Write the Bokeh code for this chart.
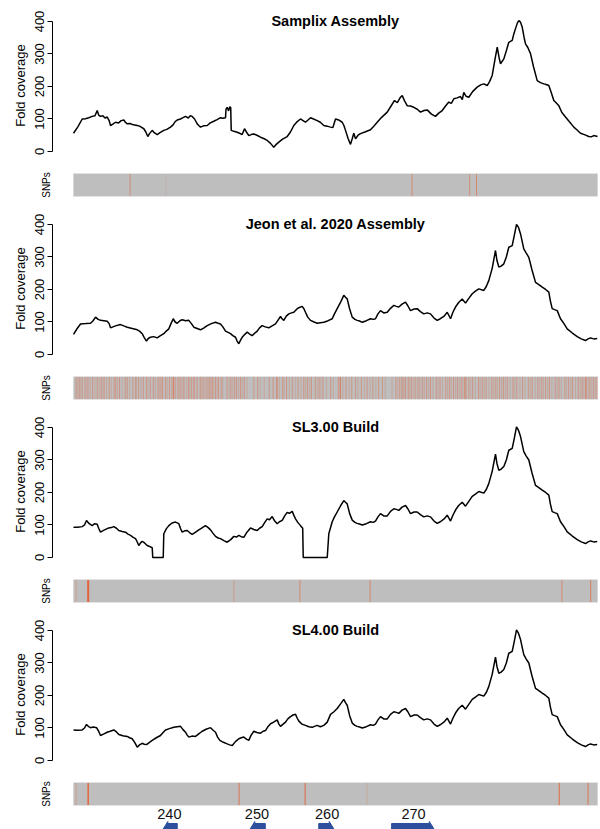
from bokeh.plotting import figure
from bokeh.layouts import column
from bokeh.models import Range1d, FixedTicker, Label, ColumnDataSource
from bokeh.embed import file_html
from bokeh.resources import INLINE

# ---------------- data ----------------
titles = ["Samplix Assembly", "Jeon et al. 2020 Assembly", "SL3.00 Build", "SL4.00 Build"]

cov1_x = [0.0, 0.8, 1.66, 2.3, 2.9, 3.57, 4.1, 4.52, 4.8, 5.15, 5.6, 6.0, 6.43, 6.8, 7.06, 7.5, 8.02, 8.6,
          9.1, 9.60, 9.9, 10.25, 10.8, 11.4, 12.16, 12.6, 13.0, 13.42, 13.8, 14.18, 14.5, 15.02, 15.4, 15.97,
          16.5, 17.23, 17.8, 18.51, 19.0, 19.4, 19.79, 20.4, 20.9, 21.37, 21.9, 22.3, 22.65, 23.1, 23.61, 23.9,
          24.24, 24.8, 25.52, 26.1, 26.77, 27.4, 28.05, 28.5, 29.01, 29.10, 29.33, 29.6, 29.83, 30.00, 30.10,
          30.6, 31.24, 31.7, 32.19, 32.63, 33.0, 33.45, 33.9, 34.41, 35.0, 35.69, 36.3, 36.97, 37.6, 38.22,
          38.7, 39.18, 39.9, 40.78, 41.4, 42.04, 42.7, 43.32, 43.8, 44.27, 44.7, 45.23, 45.8, 46.51, 47.1,
          47.77, 48.4, 49.05, 49.5, 50.0, 50.6, 51.28, 51.6, 51.91, 52.4, 52.86, 53.2, 53.49, 53.82, 54.3,
          54.77, 55.6, 56.68, 57.3, 57.96, 58.8, 59.87, 60.6, 61.26, 61.8, 62.40, 62.73, 63.2, 63.68, 64.3,
          64.94, 65.6, 66.22, 66.9, 67.50, 68.3, 69.08, 69.7, 70.36, 71.0, 71.62, 72.1, 72.58, 73.2, 73.85,
          74.2, 74.48, 74.9, 75.44, 76.2, 77.04, 77.7, 78.30, 78.95, 79.4, 79.90, 80.4, 80.86, 81.2, 81.49,
          82.12, 82.6, 83.07, 83.72, 84.0, 84.35, 84.7, 84.98, 85.3, 85.63, 86.0, 86.26, 86.7, 87.21, 87.8,
          88.49, 89.1, 89.75, 90.2, 90.71, 91.2, 91.66, 92.1, 92.61, 93.2, 93.89, 94.6, 95.48, 96.1, 96.76,
          97.5, 98.34, 98.8, 99.29, 100.0]
cov1_y = [56, 75, 100, 101, 104, 108, 110, 126, 112, 108, 110, 103, 106, 95, 80, 84, 90, 88,
          95, 97, 90, 85, 86, 82, 80, 78, 74, 70, 60, 46, 55, 65, 58, 52,
          58, 65, 68, 75, 82, 92, 97, 100, 104, 108, 103, 110, 108, 100, 85, 80,
          75, 79, 80, 88, 93, 98, 104, 102, 104, 130, 136, 125, 138, 135, 65,
          62, 59, 56, 52, 70, 60, 49, 52, 54, 50, 44, 40, 34, 25, 13,
          22, 29, 38, 46, 60, 80, 92, 100, 95, 90, 96, 104, 100, 95, 90,
          80, 78, 75, 74, 100, 97, 90, 80, 65, 40, 22, 40, 56, 39, 50,
          55, 60, 67, 78, 90, 105, 121, 140, 157, 150, 167, 172, 155, 141, 140,
          136, 130, 121, 126, 128, 115, 108, 118, 126, 140, 152, 148, 162, 165, 169,
          160, 182, 170, 167, 185, 198, 205, 208, 203, 215, 234, 280, 321, 290, 270,
          285, 310, 336, 342, 360, 378, 395, 403, 398, 383, 350, 331, 320, 301, 260,
          218, 212, 208, 206, 203, 180, 157, 150, 141, 120, 106, 92, 75, 66, 56,
          52, 46, 45, 49, 46]

cov2_x = [0.0, 0.7, 1.34, 2.3, 3.24, 3.7, 4.20, 4.7, 5.15, 5.8, 6.43, 6.8, 7.06, 8.0, 8.97, 9.6, 10.25,
          11.2, 12.16, 12.6, 13.11, 13.5, 13.93, 14.3, 14.69, 15.3, 15.97, 16.6, 17.23, 17.7, 18.19, 18.6,
          19.03, 19.4, 19.79, 20.3, 20.74, 21.4, 22.00, 22.5, 22.96, 23.6, 24.24, 24.9, 25.52, 26.3, 27.10,
          27.6, 28.05, 28.5, 29.01, 29.5, 29.96, 30.4, 30.92, 31.2, 31.55, 31.9, 32.19, 32.7, 33.15, 33.6,
          34.10, 34.6, 35.06, 35.5, 36.01, 36.6, 37.27, 37.9, 38.55, 39.0, 39.50, 39.8, 40.13, 40.6, 41.09,
          41.6, 42.04, 42.5, 43.00, 43.64, 44.0, 44.27, 44.7, 45.23, 45.9, 46.51, 47.1, 47.77, 48.6, 49.37,
          49.8, 50.32, 51.0, 51.58, 51.9, 52.23, 52.7, 53.19, 53.7, 54.14, 54.6, 55.10, 55.9, 56.68, 57.2,
          57.63, 58.1, 58.59, 59.2, 59.87, 60.5, 61.13, 61.6, 62.08, 62.7, 63.36, 63.8, 64.31, 65.0, 65.59,
          66.2, 66.85, 67.5, 68.13, 68.8, 69.41, 70.0, 70.67, 71.32, 71.95, 72.4, 72.90, 73.5, 74.18, 74.81,
          75.4, 76.09, 76.7, 77.35, 78.30, 78.8, 79.26, 79.9, 80.53, 80.8, 81.17, 81.6, 82.12, 82.6, 83.07,
          83.72, 84.1, 84.54, 84.9, 85.31, 85.93, 86.4, 86.89, 87.5, 88.17, 88.8, 89.45, 90.1, 90.71, 91.0,
          91.35, 91.8, 92.31, 92.94, 93.6, 94.22, 95.2, 96.13, 96.9, 97.71, 98.2, 98.66, 99.3, 99.94]
cov2_y = [62, 80, 94, 95, 96, 103, 115, 108, 105, 104, 102, 95, 82, 88, 92, 88, 84,
          80, 76, 72, 64, 52, 41, 50, 53, 55, 51, 58, 64, 72, 79, 95,
          110, 100, 96, 104, 107, 104, 105, 95, 84, 80, 76, 82, 89, 95, 99,
          96, 94, 85, 72, 68, 64, 58, 53, 42, 33, 45, 53, 62, 69, 63,
          58, 66, 72, 82, 89, 85, 82, 88, 94, 105, 117, 110, 105, 118, 125,
          128, 130, 138, 144, 148, 140, 130, 115, 105, 100, 96, 98, 99, 104, 110,
          125, 141, 162, 182, 176, 171, 140, 115, 108, 105, 103, 99, 104, 110, 108,
          110, 125, 135, 128, 130, 142, 151, 148, 146, 155, 161, 150, 135, 140, 141,
          132, 125, 128, 125, 112, 105, 110, 117, 130, 110, 130, 146, 160, 171, 158,
          172, 187, 195, 202, 197, 210, 228, 265, 320, 290, 269, 272, 279, 300, 330,
          335, 365, 400, 392, 371, 325, 312, 299, 260, 222, 215, 207, 200, 192, 165,
          141, 138, 135, 110, 95, 79, 66, 55, 48, 43, 48, 51, 48, 49]

cov3_x = [0.0, 0.8, 1.66, 2.1, 2.48, 3.0, 3.57, 4.0, 4.52, 4.8, 5.15, 5.9, 6.74, 7.2, 7.69, 8.2, 8.65, 9.3,
          9.92, 10.4, 10.88, 11.4, 11.83, 12.1, 12.46, 12.8, 13.11, 13.6, 14.06, 14.5, 15.02, 15.12, 17.12,
          17.23, 17.7, 18.19, 18.8, 19.47, 20.10, 20.4, 20.74, 21.2, 21.70, 22.2, 22.65, 23.3, 23.91, 24.6,
          25.19, 25.7, 26.15, 26.6, 27.10, 27.6, 28.05, 28.7, 29.33, 30.0, 30.59, 31.1, 31.55, 32.0, 32.50,
          33.1, 33.78, 34.4, 35.06, 35.5, 36.01, 36.5, 36.97, 37.4, 37.92, 38.4, 38.87, 39.3, 39.83, 40.3,
          40.78, 41.2, 41.74, 42.1, 42.37, 42.8, 43.32, 43.74, 43.84, 48.42, 48.72, 49.37, 49.8, 50.32, 51.0,
          51.58, 51.9, 52.23, 52.7, 53.19, 53.7, 54.14, 54.6, 55.10, 55.9, 56.68, 57.2, 57.63, 58.1, 58.59,
          59.2, 59.87, 60.5, 61.13, 61.6, 62.08, 62.7, 63.36, 63.8, 64.31, 65.0, 65.59, 66.2, 66.85, 67.5,
          68.13, 68.8, 69.41, 70.0, 70.67, 71.32, 71.95, 72.4, 72.90, 73.5, 74.18, 74.81, 75.4, 76.09, 76.7,
          77.35, 78.30, 78.8, 79.26, 79.9, 80.53, 80.8, 81.17, 81.6, 82.12, 82.6, 83.07, 83.72, 84.1, 84.54,
          84.9, 85.31, 85.93, 86.4, 86.89, 87.5, 88.17, 88.8, 89.45, 90.1, 90.71, 91.0, 91.35, 91.8, 92.31,
          92.94, 93.6, 94.22, 95.2, 96.13, 96.9, 97.71, 98.2, 98.66, 99.3, 99.94]
cov3_y = [93, 93, 95, 100, 114, 104, 98, 104, 102, 90, 78, 85, 91, 92, 95, 90, 83, 80,
          78, 72, 68, 62, 58, 50, 37, 45, 50, 44, 37, 34, 30, 0, 0,
          73, 88, 98, 106, 109, 104, 90, 78, 82, 83, 76, 71, 78, 85, 92,
          98, 92, 85, 75, 65, 60, 58, 52, 47, 55, 65, 63, 68, 64, 62,
          78, 91, 86, 83, 90, 95, 108, 119, 116, 126, 112, 104, 110, 114, 128,
          139, 136, 142, 128, 119, 108, 98, 90, 0, 0, 73, 110, 125, 140, 160,
          175, 170, 165, 135, 115, 108, 105, 103, 100, 104, 110, 108, 112, 125, 135,
          128, 128, 142, 150, 148, 145, 155, 160, 150, 135, 140, 140, 132, 125, 128,
          125, 112, 105, 110, 118, 130, 112, 130, 146, 160, 170, 158, 172, 188, 195,
          203, 198, 210, 228, 265, 318, 290, 268, 272, 280, 300, 330, 336, 365, 402,
          392, 372, 326, 312, 300, 260, 222, 215, 207, 200, 192, 165, 141, 138, 135,
          110, 95, 79, 66, 55, 48, 43, 48, 51, 48, 49]

cov4_x = [0.0, 0.8, 1.66, 2.1, 2.48, 2.9, 3.24, 3.8, 4.39, 4.8, 5.15, 5.8, 6.43, 7.0, 7.69, 8.2, 8.65, 9.4,
          10.25, 10.7, 11.20, 11.7, 12.16, 12.6, 13.11, 13.5, 13.93, 14.5, 15.02, 15.8, 16.60, 17.1, 17.56,
          18.3, 19.14, 19.8, 20.42, 20.9, 21.37, 21.7, 22.00, 22.6, 23.28, 23.9, 24.56, 25.3, 26.15, 26.6,
          27.10, 27.5, 27.92, 28.6, 29.33, 29.8, 30.29, 30.9, 31.55, 32.0, 32.50, 33.0, 33.45, 33.9, 34.41,
          35.0, 35.69, 36.2, 36.64, 37.1, 37.60, 38.2, 38.87, 39.2, 39.50, 40.0, 40.46, 40.9, 41.41, 41.9,
          42.37, 42.7, 43.00, 43.6, 44.27, 44.9, 45.55, 46.0, 46.51, 47.1, 47.77, 48.42, 49.05, 49.7, 50.32,
          51.0, 51.58, 51.9, 52.23, 52.7, 53.19, 53.7, 54.14, 54.6, 55.10, 55.9, 56.68, 57.2, 57.63, 58.1,
          58.59, 59.2, 59.87, 60.5, 61.13, 61.6, 62.08, 62.7, 63.36, 63.8, 64.31, 65.0, 65.59, 66.2, 66.85,
          67.5, 68.13, 68.8, 69.41, 70.0, 70.67, 71.32, 71.95, 72.4, 72.90, 73.5, 74.18, 74.81, 75.4, 76.09,
          76.7, 77.35, 78.30, 78.8, 79.26, 79.9, 80.53, 80.8, 81.17, 81.6, 82.12, 82.6, 83.07, 83.72, 84.1,
          84.54, 84.9, 85.31, 85.93, 86.4, 86.89, 87.5, 88.17, 88.8, 89.45, 90.1, 90.71, 91.0, 91.35, 91.8,
          92.31, 92.94, 93.6, 94.22, 95.2, 96.13, 96.9, 97.71, 98.2, 98.66, 99.3, 99.94]
cov4_y = [94, 93, 94, 100, 111, 104, 101, 103, 101, 90, 77, 82, 87, 90, 94, 88, 80, 76,
          74, 70, 67, 55, 41, 48, 53, 50, 49, 56, 62, 70, 77, 86, 94,
          98, 102, 104, 105, 95, 87, 78, 72, 75, 74, 82, 90, 96, 101, 94,
          87, 72, 62, 56, 51, 48, 46, 58, 67, 70, 72, 66, 62, 78, 90,
          86, 84, 90, 92, 104, 113, 118, 125, 112, 105, 112, 118, 128, 135, 140,
          142, 130, 121, 112, 108, 104, 102, 105, 108, 104, 108, 118, 142, 150, 160,
          175, 188, 178, 170, 138, 115, 108, 105, 103, 100, 104, 110, 108, 112, 125,
          135, 128, 128, 142, 150, 148, 145, 155, 160, 150, 135, 140, 140, 132, 125,
          128, 125, 112, 105, 110, 118, 130, 112, 130, 146, 160, 170, 158, 172, 188,
          195, 203, 198, 210, 228, 265, 318, 290, 268, 272, 280, 300, 330, 336, 365,
          402, 392, 372, 326, 312, 300, 260, 222, 215, 207, 200, 192, 165, 141, 138,
          135, 110, 95, 79, 66, 55, 48, 43, 48, 51, 48, 49]

snp1_pos = [10.8, 17.6, 64.6, 75.6, 76.9]
snp1_alpha = [0.5, 0.12, 0.6, 0.5, 0.6]

snp2_pos = [0.50, 1.09, 1.67, 2.19, 2.77, 3.65, 4.53, 5.26, 5.85, 6.80, 7.75, 8.05, 8.78, 9.88, 10.25,
            11.34, 11.86, 12.44, 13.32, 13.91, 14.64, 15.23, 16.11, 16.69, 16.99, 17.57, 18.30, 19.04, 19.40,
            19.92, 20.50, 21.09, 21.97, 22.55, 23.07, 23.58, 24.17, 24.75, 25.48, 26.00, 26.51, 27.10, 27.68,
            28.19, 29.29, 30.03, 30.76, 31.13, 31.86, 32.59, 34.42, 35.15, 37.35, 38.08, 38.82, 39.92, 40.65,
            41.75, 42.85, 43.95, 44.68, 45.41, 46.14, 46.88, 47.61, 49.08, 50.54, 50.91, 52.00, 53.10, 53.84,
            54.93, 56.03, 57.13, 58.23, 58.96, 61.52, 62.26, 62.84, 63.36, 63.87, 64.46, 65.19, 65.92, 66.66,
            67.39, 68.12, 69.22, 69.95, 71.05, 71.78, 72.52, 73.25, 73.98, 74.71, 75.45, 76.18, 77.28, 78.01,
            78.74, 79.84, 80.58, 81.31, 82.04, 82.77, 83.87, 84.60, 85.70, 86.80, 87.53, 88.63, 89.36, 90.10,
            90.83, 91.93, 92.66, 93.76, 94.49, 95.23, 96.32, 97.06, 97.79, 98.52, 99.26, 99.90]
snp2_faint = [0.8, 1.4, 2.5, 3.2, 4.1, 4.9, 5.6, 6.3, 7.2, 8.4, 9.3, 10.7, 12.0, 12.9, 14.2, 15.6, 16.4,
              17.9, 18.7, 20.2, 20.9, 21.6, 22.2, 22.9, 24.4, 25.1, 25.8, 26.3, 26.8, 27.4, 28.5, 29.7,
              30.4, 31.5, 32.2, 33.1, 35.6, 36.4, 39.3, 40.2, 41.2, 42.3, 43.4, 44.3, 45.1, 46.5, 47.2,
              48.3, 49.6, 51.4, 52.6, 54.3, 55.5, 56.6, 57.7, 59.5, 60.8, 61.9, 62.6, 63.1, 64.1, 64.8,
              65.6, 66.3, 67.0, 67.8, 68.6, 69.6, 70.4, 71.4, 72.1, 72.9, 73.6, 74.3, 75.0, 75.8, 76.7,
              77.6, 78.4, 79.3, 80.2, 80.9, 81.7, 82.4, 83.3, 84.2, 85.2, 86.2, 87.2, 88.1, 89.0, 89.7,
              90.5, 91.3, 92.3, 93.1, 94.1, 94.9, 95.8, 96.7, 97.4, 98.2, 98.9, 99.6]
snp2_strong = [19.04, 38.82, 50.91, 74.71, 97.79]

snp3_pos = [0.5, 2.8, 30.6, 43.2, 56.6, 93.2, 98.7]
snp3_alpha = [0.35, 1.0, 0.35, 0.6, 0.6, 0.6, 0.7]

snp4_pos = [0.5, 2.8, 31.6, 44.2, 56.0, 92.7, 98.2]
snp4_alpha = [0.35, 0.9, 0.8, 0.9, 0.25, 0.9, 0.8]

gene_names = ["240", "250", "260", "270"]
gene_start = [16.8, 33.4, 46.8, 60.7]
gene_end = [19.8, 36.6, 50.0, 69.1]
gene_strand = [-1, -1, 1, 1]

yticks = [0, 100, 200, 300, 400]

# ---------------- layout constants ----------------
W = 600
LEFT = 52
FONT = "Liberation Sans"
XR = (-4.01, 100.57)
SNP_COLOR = "#E4623B"


def coverage_fig(xs, ys, title, top):
    p = figure(width=W, height=142 + top, output_backend="svg", toolbar_location=None,
               x_range=Range1d(*XR), y_range=Range1d(-15.4, 421.5),
               x_axis_location=None, min_border_left=LEFT, min_border_right=0,
               min_border_top=top, min_border_bottom=0)
    p.outline_line_color = None
    p.grid.visible = False
    p.background_fill_color = "white"
    p.border_fill_color = "white"
    ax = p.yaxis[0]
    ax.ticker = FixedTicker(ticks=yticks)
    ax.bounds = (0, 400)
    ax.minor_tick_line_color = None
    ax.major_tick_out = 5
    ax.major_tick_in = 0
    ax.major_label_orientation = "vertical"
    ax.major_label_standoff = 3
    ax.major_label_text_font = FONT
    ax.major_label_text_font_size = "13px"
    ax.major_label_text_color = "black"
    ax.axis_line_color = "black"
    ax.major_tick_line_color = "black"
    ax.axis_label = "Fold coverage"
    ax.axis_label_text_font = FONT
    ax.axis_label_text_font_style = "normal"
    ax.axis_label_text_font_size = "13px"
    ax.axis_label_text_color = "black"
    ax.axis_label_standoff = 5
    p.line(xs, ys, line_color="black", line_width=1.5)
    p.add_layout(Label(x=50, y=403, text=title, text_align="center",
                       text_baseline="middle", text_font=FONT, text_font_style="bold",
                       text_font_size="14.5px", text_color="black"))
    return p


def snp_fig(pos, alpha, bottom_border, widths=None):
    p = figure(width=W, height=17 + 23 + bottom_border, output_backend="svg", toolbar_location=None,
               x_range=Range1d(*XR), y_range=Range1d(0, 1),
               x_axis_location=None, min_border_left=LEFT, min_border_right=0,
               min_border_top=17, min_border_bottom=bottom_border)
    p.outline_line_color = None
    p.grid.visible = False
    ax = p.yaxis[0]
    ax.ticker = FixedTicker(ticks=[])
    ax.axis_line_color = None
    ax.major_tick_line_color = None
    ax.minor_tick_line_color = None
    ax.major_label_text_font_size = "0px"
    ax.axis_label = "SNPs"
    ax.axis_label_text_font = FONT
    ax.axis_label_text_font_style = "normal"
    ax.axis_label_text_font_size = "10px"
    ax.axis_label_text_color = "black"
    ax.axis_label_standoff = 1
    p.quad(left=[0], right=[100], bottom=[0.0], top=[1.0], fill_color="#BEBEBE",
           line_color="#D6D6D6", line_width=1)
    if widths is None:
        widths = [1.0] * len(pos)
    src = ColumnDataSource(dict(x=pos, a=alpha, w=widths))
    p.segment(x0="x", y0=0.02, x1="x", y1=0.98, source=src, line_color=SNP_COLOR,
              line_alpha="a", line_width="w")
    return p


def gene_fig():
    p = figure(width=W, height=23, output_backend="svg", toolbar_location=None,
               x_range=Range1d(*XR), y_range=Range1d(0, 23),
               x_axis_location=None, y_axis_location=None, min_border_left=LEFT,
               min_border_right=0, min_border_top=0, min_border_bottom=0)
    p.outline_line_color = None
    p.grid.visible = False
    xs, ys = [], []
    c, half, head_half, head = -2.0, 8.0, 10.0, 1.2
    for s, e, st in zip(gene_start, gene_end, gene_strand):
        if st < 0:
            xs.append([s, s + head, s + head, e, e, s + head, s + head])
        else:
            xs.append([e, e - head, e - head, s, s, e - head, e - head])
        ys.append([c, c + head_half, c + half, c + half, c - half, c - half, c - head_half])
    p.patches(xs, ys, fill_color="#2C4F9E", line_color="#2C4F9E")
    mids = [(s + e) / 2 for s, e in zip(gene_start, gene_end)]
    p.text(x=mids, y=[16] * len(mids), text=gene_names, text_align="center",
           text_baseline="middle", text_font_size="14.5px", text_font={"value": FONT},
           text_color="#111111")
    return p


snp2_all = snp2_pos + snp2_faint
snp2_alpha = [0.85 if v in snp2_strong else 0.45 for v in snp2_pos] + [0.25] * len(snp2_faint)
covs = [(cov1_x, cov1_y), (cov2_x, cov2_y), (cov3_x, cov3_y), (cov4_x, cov4_y)]
snps = [(snp1_pos, snp1_alpha, None), (snp2_all, snp2_alpha, None),
        (snp3_pos, snp3_alpha, [1.0, 2.0, 1.0, 1.0, 1.0, 1.0, 1.0]),
        (snp4_pos, snp4_alpha, [1.0, 1.6, 1.0, 1.0, 1.0, 1.0, 1.0])]

children = []
for i in range(4):
    children.append(coverage_fig(covs[i][0], covs[i][1], titles[i], 14 if i == 0 else 6))
    children.append(snp_fig(snps[i][0], snps[i][1], 15 if i < 3 else 1, snps[i][2]))
children.append(gene_fig())

layout = column(*children, spacing=0)
open("out.html", "w").write(file_html(layout, INLINE))
